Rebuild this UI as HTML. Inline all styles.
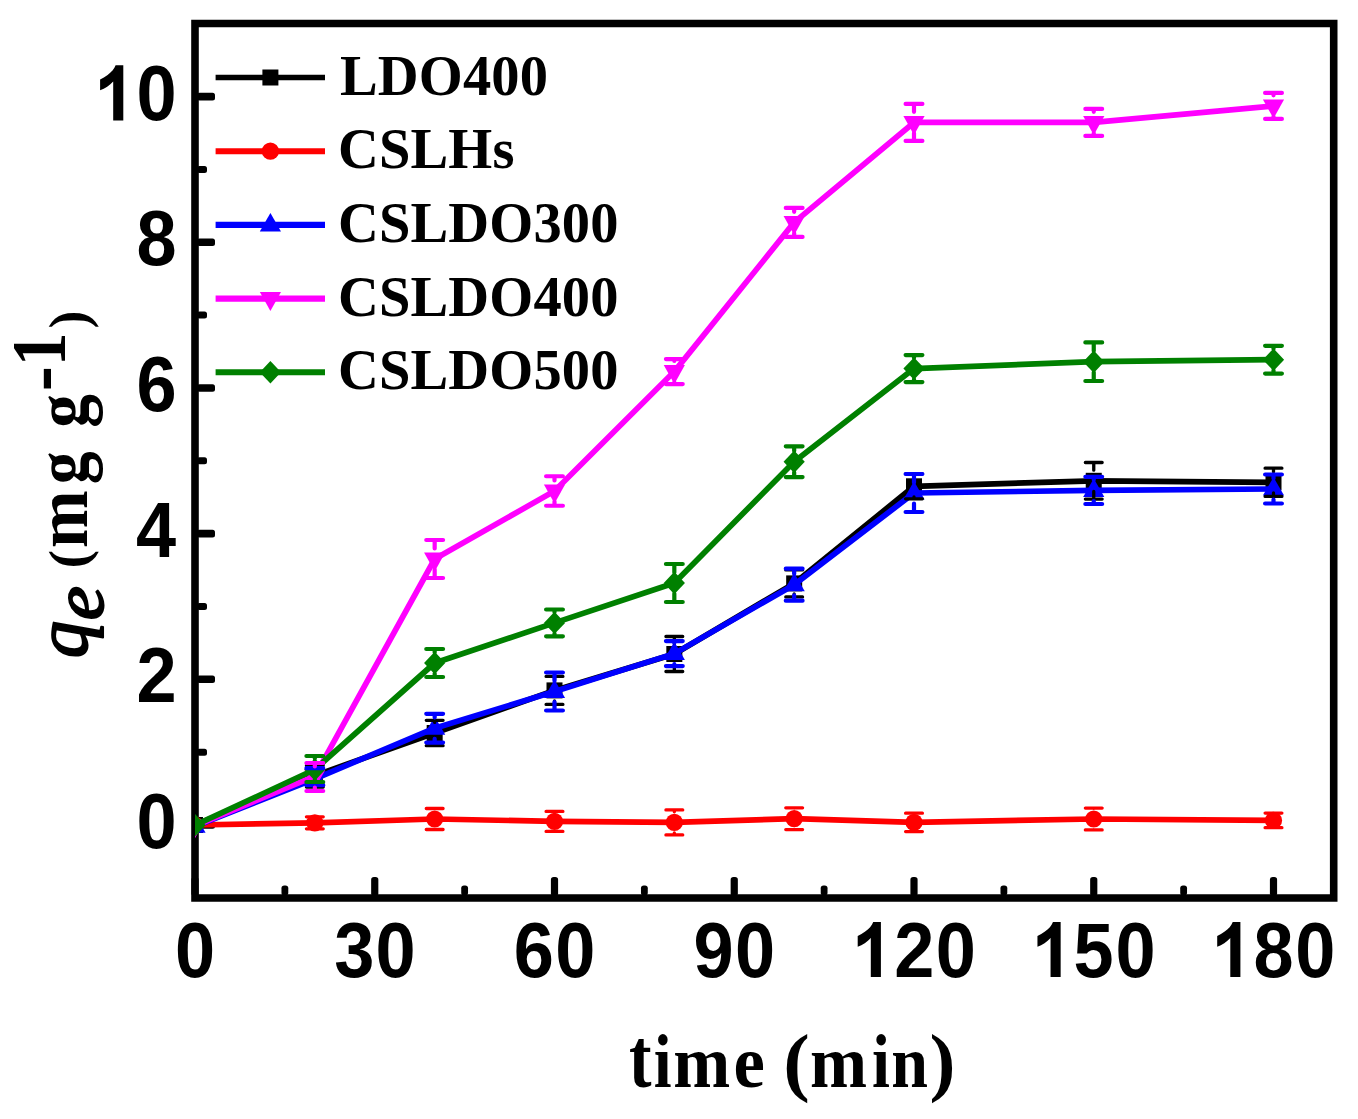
<!DOCTYPE html>
<html><head><meta charset="utf-8"><title>qe vs time</title>
<style>
html,body{margin:0;padding:0;background:#fff;}
body{width:1358px;height:1119px;overflow:hidden;}
svg{display:block;}
.leg{font-family:"Liberation Serif",serif;font-weight:bold;font-size:56.5px;fill:#000;letter-spacing:0.15px;}
</style></head>
<body>
<svg width="1358" height="1119" viewBox="0 0 1358 1119">
<defs><clipPath id="plotclip"><rect x="195" y="23.5" width="1138.7" height="874.5"/></clipPath></defs>
<rect width="1358" height="1119" fill="#fff"/>
<path d="M195,23.5H1333.7V898H195Z" fill="none" stroke="#000" stroke-width="7.6" stroke-linejoin="miter"/>
<rect x="197" y="821.20" width="18" height="7.6" rx="2.5" fill="#000"/>
<rect x="197" y="748.66" width="10" height="7" rx="2.5" fill="#000"/>
<rect x="197" y="675.52" width="18" height="7.6" rx="2.5" fill="#000"/>
<rect x="197" y="602.98" width="10" height="7" rx="2.5" fill="#000"/>
<rect x="197" y="529.84" width="18" height="7.6" rx="2.5" fill="#000"/>
<rect x="197" y="457.30" width="10" height="7" rx="2.5" fill="#000"/>
<rect x="197" y="384.16" width="18" height="7.6" rx="2.5" fill="#000"/>
<rect x="197" y="311.62" width="10" height="7" rx="2.5" fill="#000"/>
<rect x="197" y="238.48" width="18" height="7.6" rx="2.5" fill="#000"/>
<rect x="197" y="165.94" width="10" height="7" rx="2.5" fill="#000"/>
<rect x="197" y="92.80" width="18" height="7.6" rx="2.5" fill="#000"/>
<rect x="191.40" y="877" width="7.2" height="19" rx="2.8" fill="#000"/>
<rect x="281.48" y="885.5" width="6.8" height="10" rx="2.8" fill="#000"/>
<rect x="371.15" y="877" width="7.2" height="19" rx="2.8" fill="#000"/>
<rect x="461.23" y="885.5" width="6.8" height="10" rx="2.8" fill="#000"/>
<rect x="550.90" y="877" width="7.2" height="19" rx="2.8" fill="#000"/>
<rect x="640.98" y="885.5" width="6.8" height="10" rx="2.8" fill="#000"/>
<rect x="730.65" y="877" width="7.2" height="19" rx="2.8" fill="#000"/>
<rect x="820.73" y="885.5" width="6.8" height="10" rx="2.8" fill="#000"/>
<rect x="910.40" y="877" width="7.2" height="19" rx="2.8" fill="#000"/>
<rect x="1000.48" y="885.5" width="6.8" height="10" rx="2.8" fill="#000"/>
<rect x="1090.15" y="877" width="7.2" height="19" rx="2.8" fill="#000"/>
<rect x="1180.22" y="885.5" width="6.8" height="10" rx="2.8" fill="#000"/>
<rect x="1269.90" y="877" width="7.2" height="19" rx="2.8" fill="#000"/>
<g clip-path="url(#plotclip)">
<polyline points="195.00,825.00 314.83,775.60 434.67,733.00 554.50,690.40 674.33,654.00 794.17,583.40 914.00,486.30 1093.75,480.80 1273.50,482.30" fill="none" stroke="#000000" stroke-width="5.7" stroke-linejoin="round"/>
<rect x="187.00" y="817.00" width="16" height="16" fill="#000000"/>
<rect x="306.83" y="767.60" width="16" height="16" fill="#000000"/>
<rect x="426.67" y="725.00" width="16" height="16" fill="#000000"/>
<rect x="546.50" y="682.40" width="16" height="16" fill="#000000"/>
<rect x="666.33" y="646.00" width="16" height="16" fill="#000000"/>
<rect x="786.17" y="575.40" width="16" height="16" fill="#000000"/>
<rect x="906.00" y="478.30" width="16" height="16" fill="#000000"/>
<rect x="1085.75" y="472.80" width="16" height="16" fill="#000000"/>
<rect x="1265.50" y="474.30" width="16" height="16" fill="#000000"/>
<polyline points="195.00,825.00 314.83,822.80 434.67,819.00 554.50,821.40 674.33,822.40 794.17,818.70 914.00,822.40 1093.75,819.00 1273.50,820.40" fill="none" stroke="#ff0000" stroke-width="5.7" stroke-linejoin="round"/>
<circle cx="195.00" cy="825.00" r="8.6" fill="#ff0000"/>
<circle cx="314.83" cy="822.80" r="8.6" fill="#ff0000"/>
<circle cx="434.67" cy="819.00" r="8.6" fill="#ff0000"/>
<circle cx="554.50" cy="821.40" r="8.6" fill="#ff0000"/>
<circle cx="674.33" cy="822.40" r="8.6" fill="#ff0000"/>
<circle cx="794.17" cy="818.70" r="8.6" fill="#ff0000"/>
<circle cx="914.00" cy="822.40" r="8.6" fill="#ff0000"/>
<circle cx="1093.75" cy="819.00" r="8.6" fill="#ff0000"/>
<circle cx="1273.50" cy="820.40" r="8.6" fill="#ff0000"/>
<polyline points="195.00,826.30 314.83,778.80 434.67,728.20 554.50,691.50 674.33,653.60 794.17,584.70 914.00,493.00 1093.75,490.40 1273.50,489.00" fill="none" stroke="#0000ff" stroke-width="5.7" stroke-linejoin="round"/>
<polygon points="195.00,814.50 205.60,832.80 184.40,832.80" fill="#0000ff"/>
<polygon points="314.83,767.00 325.43,785.30 304.23,785.30" fill="#0000ff"/>
<polygon points="434.67,716.40 445.27,734.70 424.07,734.70" fill="#0000ff"/>
<polygon points="554.50,679.70 565.10,698.00 543.90,698.00" fill="#0000ff"/>
<polygon points="674.33,641.80 684.93,660.10 663.73,660.10" fill="#0000ff"/>
<polygon points="794.17,572.90 804.77,591.20 783.57,591.20" fill="#0000ff"/>
<polygon points="914.00,481.20 924.60,499.50 903.40,499.50" fill="#0000ff"/>
<polygon points="1093.75,478.60 1104.35,496.90 1083.15,496.90" fill="#0000ff"/>
<polygon points="1273.50,477.20 1284.10,495.50 1262.90,495.50" fill="#0000ff"/>
<polyline points="195.00,825.80 314.83,776.20 434.67,559.00 554.50,491.00 674.33,371.60 794.17,222.40 914.00,122.45 1093.75,122.40 1273.50,105.90" fill="none" stroke="#ff00ff" stroke-width="5.7" stroke-linejoin="round"/>
<polygon points="184.40,819.30 205.60,819.30 195.00,838.30" fill="#ff00ff"/>
<polygon points="304.23,769.70 325.43,769.70 314.83,788.70" fill="#ff00ff"/>
<polygon points="424.07,552.50 445.27,552.50 434.67,571.50" fill="#ff00ff"/>
<polygon points="543.90,484.50 565.10,484.50 554.50,503.50" fill="#ff00ff"/>
<polygon points="663.73,365.10 684.93,365.10 674.33,384.10" fill="#ff00ff"/>
<polygon points="783.57,215.90 804.77,215.90 794.17,234.90" fill="#ff00ff"/>
<polygon points="903.40,115.95 924.60,115.95 914.00,134.95" fill="#ff00ff"/>
<polygon points="1083.15,115.90 1104.35,115.90 1093.75,134.90" fill="#ff00ff"/>
<polygon points="1262.90,99.40 1284.10,99.40 1273.50,118.40" fill="#ff00ff"/>
<polyline points="195.00,825.20 314.83,769.50 434.67,663.00 554.50,622.90 674.33,583.00 794.17,461.70 914.00,368.60 1093.75,361.70 1273.50,359.70" fill="none" stroke="#008000" stroke-width="5.7" stroke-linejoin="round"/>
<polygon points="195.00,814.00 205.60,825.20 195.00,836.40 184.40,825.20" fill="#008000"/>
<polygon points="314.83,758.30 325.43,769.50 314.83,780.70 304.23,769.50" fill="#008000"/>
<polygon points="434.67,651.80 445.27,663.00 434.67,674.20 424.07,663.00" fill="#008000"/>
<polygon points="554.50,611.70 565.10,622.90 554.50,634.10 543.90,622.90" fill="#008000"/>
<polygon points="674.33,571.80 684.93,583.00 674.33,594.20 663.73,583.00" fill="#008000"/>
<polygon points="794.17,450.50 804.77,461.70 794.17,472.90 783.57,461.70" fill="#008000"/>
<polygon points="914.00,357.40 924.60,368.60 914.00,379.80 903.40,368.60" fill="#008000"/>
<polygon points="1093.75,350.50 1104.35,361.70 1093.75,372.90 1083.15,361.70" fill="#008000"/>
<polygon points="1273.50,348.50 1284.10,359.70 1273.50,370.90 1262.90,359.70" fill="#008000"/>
<path d="M306.43,765.60H323.23M306.43,787.00H323.23M314.83,765.60V765.70M314.83,786.90V787.00M426.27,720.30H443.07M426.27,745.70H443.07M434.67,720.30V722.40M434.67,743.60V745.70M546.10,676.40H562.90M546.10,704.40H562.90M554.50,676.40V679.80M554.50,701.00V704.40M665.93,636.50H682.73M665.93,671.50H682.73M674.33,636.50V643.40M674.33,664.60V671.50M785.77,569.90H802.57M785.77,596.90H802.57M794.17,569.90V572.80M794.17,594.00V596.90M905.60,473.80H922.40M905.60,498.80H922.40M914.00,473.80V475.70M914.00,496.90V498.80M1085.35,462.50H1102.15M1085.35,499.10H1102.15M1093.75,462.50V470.20M1093.75,491.40V499.10M1265.10,468.20H1281.90M1265.10,496.40H1281.90M1273.50,468.20V471.70M1273.50,492.90V496.40" fill="none" stroke="#000000" stroke-width="3.3" stroke-linecap="round"/>
<path d="M306.43,816.80H323.23M306.43,828.80H323.23M426.27,808.50H443.07M426.27,829.50H443.07M546.10,811.40H562.90M546.10,831.40H562.90M665.93,809.90H682.73M665.93,834.90H682.73M674.33,809.90V811.80M674.33,833.00V834.90M785.77,807.80H802.57M785.77,829.60H802.57M794.17,807.80V808.10M794.17,829.30V829.60M905.60,813.20H922.40M905.60,831.60H922.40M1085.35,808.10H1102.15M1085.35,829.90H1102.15M1093.75,808.10V808.40M1093.75,829.60V829.90M1265.10,813.10H1281.90M1265.10,827.70H1281.90" fill="none" stroke="#ff0000" stroke-width="3.3" stroke-linecap="round"/>
<path d="M306.43,768.20H323.23M306.43,785.20H323.23M426.27,713.80H443.07M426.27,742.60H443.07M434.67,713.80V717.60M434.67,738.80V742.60M546.10,672.50H562.90M546.10,710.50H562.90M554.50,672.50V680.90M554.50,702.10V710.50M665.93,641.10H682.73M665.93,666.10H682.73M674.33,641.10V643.00M674.33,664.20V666.10M785.77,568.70H802.57M785.77,600.70H802.57M794.17,568.70V574.10M794.17,595.30V600.70M905.60,474.00H922.40M905.60,512.00H922.40M914.00,474.00V482.40M914.00,503.60V512.00M1085.35,476.80H1102.15M1085.35,504.00H1102.15M1093.75,476.80V479.80M1093.75,501.00V504.00M1265.10,474.50H1281.90M1265.10,503.50H1281.90M1273.50,474.50V478.40M1273.50,499.60V503.50" fill="none" stroke="#0000ff" stroke-width="4.2" stroke-linecap="round"/>
<path d="M306.43,763.00H323.23M306.43,791.00H323.23M314.83,763.00V766.40M314.83,787.60V791.00M426.27,540.00H443.07M426.27,578.00H443.07M434.67,540.00V548.40M434.67,569.60V578.00M546.10,476.25H562.90M546.10,505.75H562.90M554.50,476.25V480.40M554.50,501.60V505.75M665.93,359.10H682.73M665.93,384.10H682.73M674.33,359.10V361.00M674.33,382.20V384.10M785.77,207.90H802.57M785.77,236.90H802.57M794.17,207.90V211.80M794.17,233.00V236.90M905.60,103.95H922.40M905.60,140.95H922.40M914.00,103.95V111.85M914.00,133.05V140.95M1085.35,108.90H1102.15M1085.35,135.90H1102.15M1093.75,108.90V111.80M1093.75,133.00V135.90M1265.10,92.90H1281.90M1265.10,118.90H1281.90M1273.50,92.90V95.30M1273.50,116.50V118.90" fill="none" stroke="#ff00ff" stroke-width="4.2" stroke-linecap="round"/>
<path d="M306.43,756.00H323.23M306.43,782.00H323.23M314.83,756.00V758.40M314.83,779.60V782.00M426.27,649.00H443.07M426.27,677.00H443.07M434.67,649.00V652.40M434.67,673.60V677.00M546.10,609.50H562.90M546.10,636.30H562.90M554.50,609.50V612.30M554.50,633.50V636.30M665.93,564.00H682.73M665.93,602.00H682.73M674.33,564.00V572.40M674.33,593.60V602.00M785.77,446.30H802.57M785.77,477.10H802.57M794.17,446.30V451.10M794.17,472.30V477.10M905.60,355.10H922.40M905.60,382.10H922.40M914.00,355.10V358.00M914.00,379.20V382.10M1085.35,342.40H1102.15M1085.35,381.00H1102.15M1093.75,342.40V351.10M1093.75,372.30V381.00M1265.10,345.85H1281.90M1265.10,373.55H1281.90M1273.50,345.85V349.10M1273.50,370.30V373.55" fill="none" stroke="#008000" stroke-width="4.2" stroke-linecap="round"/>
</g>
<line x1="215.6" y1="77.5" x2="325" y2="77.5" stroke="#000000" stroke-width="5.4"/>
<rect x="262.40" y="69.50" width="16" height="16" fill="#000000"/>
<text x="340" y="94.6" class="leg">LDO400</text>
<line x1="215.6" y1="151.2" x2="325" y2="151.2" stroke="#ff0000" stroke-width="6.1"/>
<circle cx="270.40" cy="151.20" r="8.6" fill="#ff0000"/>
<text x="338" y="168.3" class="leg">CSLHs</text>
<line x1="215.6" y1="224.9" x2="325" y2="224.9" stroke="#0000ff" stroke-width="6.1"/>
<polygon points="270.40,213.10 281.00,231.40 259.80,231.40" fill="#0000ff"/>
<text x="338" y="242.0" class="leg">CSLDO300</text>
<line x1="215.6" y1="298.6" x2="325" y2="298.6" stroke="#ff00ff" stroke-width="6.1"/>
<polygon points="259.80,292.10 281.00,292.10 270.40,311.10" fill="#ff00ff"/>
<text x="338" y="315.7" class="leg">CSLDO400</text>
<line x1="215.6" y1="372.3" x2="325" y2="372.3" stroke="#008000" stroke-width="6.1"/>
<polygon points="270.40,361.10 281.00,372.30 270.40,383.50 259.80,372.30" fill="#008000"/>
<text x="338" y="389.4" class="leg">CSLDO500</text>
<g font-family="Liberation Sans, sans-serif" font-weight="bold" fill="#000">
<text transform="translate(136.38,848.20) scale(0.918,1)" font-size="78.6">0</text>
<text transform="translate(136.56,701.50) scale(0.918,1)" font-size="78.6">2</text>
<text transform="translate(136.02,556.70) scale(0.918,1)" font-size="78.6">4</text>
<text transform="translate(136.38,410.70) scale(0.918,1)" font-size="78.6">6</text>
<text transform="translate(136.38,265.30) scale(0.918,1)" font-size="78.6">8</text>
<path transform="translate(100.10,65.30)" d="M23.2,0H15.5C14.5,3.5 11,7 7.5,9.65C5,11.5 2.5,13 0,14.1V24.9C5,23 9.5,20 13.1,16.1V55.1H23.2Z" fill="#000"/><text transform="translate(136.38,120.40) scale(0.918,1)" font-size="78.6">0</text>
<text transform="translate(174.98,977.00) scale(0.918,1)" font-size="78.6">0</text>
<text transform="translate(334.24,977.00) scale(0.918,1)" font-size="78.6">3</text><text transform="translate(375.58,977.00) scale(0.918,1)" font-size="78.6">0</text>
<text transform="translate(513.63,977.00) scale(0.918,1)" font-size="78.6">6</text><text transform="translate(555.33,977.00) scale(0.918,1)" font-size="78.6">0</text>
<text transform="translate(693.38,977.00) scale(0.918,1)" font-size="78.6">9</text><text transform="translate(735.08,977.00) scale(0.918,1)" font-size="78.6">0</text>
<path transform="translate(857.70,921.90)" d="M23.2,0H15.5C14.5,3.5 11,7 7.5,9.65C5,11.5 2.5,13 0,14.1V24.9C5,23 9.5,20 13.1,16.1V55.1H23.2Z" fill="#000"/><text transform="translate(894.16,977.00) scale(0.918,1)" font-size="78.6">2</text><text transform="translate(935.68,977.00) scale(0.918,1)" font-size="78.6">0</text>
<path transform="translate(1037.45,921.90)" d="M23.2,0H15.5C14.5,3.5 11,7 7.5,9.65C5,11.5 2.5,13 0,14.1V24.9C5,23 9.5,20 13.1,16.1V55.1H23.2Z" fill="#000"/><text transform="translate(1073.55,977.00) scale(0.918,1)" font-size="78.6">5</text><text transform="translate(1115.43,977.00) scale(0.918,1)" font-size="78.6">0</text>
<path transform="translate(1217.20,921.90)" d="M23.2,0H15.5C14.5,3.5 11,7 7.5,9.65C5,11.5 2.5,13 0,14.1V24.9C5,23 9.5,20 13.1,16.1V55.1H23.2Z" fill="#000"/><text transform="translate(1253.48,977.00) scale(0.918,1)" font-size="78.6">8</text><text transform="translate(1295.18,977.00) scale(0.918,1)" font-size="78.6">0</text>
</g>
<g font-family="Liberation Serif, serif" font-weight="bold" fill="#000">
<text transform="translate(628.89,1086.76) scale(0.9138,1.1309)" font-size="74">t</text>
<text transform="translate(653.82,1086.90) scale(0.8660,1.0243)" font-size="74">i</text>
<text transform="translate(673.29,1086.90) scale(0.9237,1.0092)" font-size="74">m</text>
<text transform="translate(733.53,1086.85) scale(0.9547,1.0079)" font-size="74">e</text>
<text transform="translate(783.32,1086.98) scale(1.0758,1.0180)" font-size="74">(</text>
<text transform="translate(810.09,1086.90) scale(0.9254,1.0092)" font-size="74">m</text>
<text transform="translate(871.91,1086.90) scale(0.8715,1.0243)" font-size="74">i</text>
<text transform="translate(891.25,1086.90) scale(0.8922,1.0092)" font-size="74">n</text>
<text transform="translate(929.46,1086.98) scale(1.0551,1.0180)" font-size="74">)</text>
</g>
<g transform="translate(87,657) rotate(-90)" font-family="Liberation Serif, serif" font-weight="bold" fill="#000">
<text transform="translate(-1.09,0.23) scale(1.0012,0.9956)" font-size="74" font-style="italic" font-weight="normal" stroke="#000" stroke-width="2.1" stroke-linejoin="round">q</text>
<text transform="translate(36.80,15.68) scale(1.0360,0.9769)" font-size="74" font-style="italic" font-weight="normal" stroke="#000" stroke-width="2.1" stroke-linejoin="round">e</text>
<text transform="translate(88.58,0.42) scale(0.7578,0.7387)" font-size="74">(</text>
<text transform="translate(109.07,-0.20) scale(0.9340,1.0035)" font-size="74">m</text>
<text transform="translate(172.86,0.16) scale(0.8864,0.9978)" font-size="74">g</text>
<text transform="translate(229.22,0.16) scale(0.9096,0.9978)" font-size="74">g</text>
<text transform="translate(265.86,-19.91) scale(1.0187,1.1447)" font-size="74">-</text>
<text transform="translate(290.79,-22.20) scale(0.9131,1.0604)" font-size="74">1</text>
<text transform="translate(328.60,0.42) scale(0.7225,0.7387)" font-size="74">)</text>
</g>
</svg>
</body></html>
